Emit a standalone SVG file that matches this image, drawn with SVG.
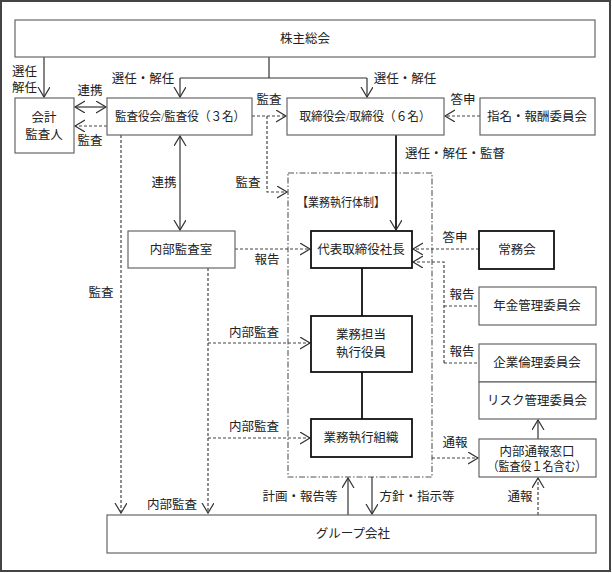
<svg xmlns="http://www.w3.org/2000/svg" width="612" height="573" viewBox="0 0 612 573">
<style>
text{font-family:"Liberation Serif","Noto Sans CJK JP",serif;font-size:12.5px;fill:#222;text-anchor:middle;dominant-baseline:central}
.box{fill:#fff;stroke:#666;stroke-width:1.2}
.bold{fill:#fff;stroke:#111;stroke-width:1.8}
.c{fill:none;stroke:#333;stroke-width:1.2}
.d{fill:none;stroke:#444;stroke-width:1.2;stroke-dasharray:3 2}
.th{fill:none;stroke:#111;stroke-width:1.8}
.dd{fill:none;stroke:#555;stroke-width:1.1;stroke-dasharray:6 2 1.5 2}
.l{text-anchor:start}
</style>
<defs>
<marker id="a" markerUnits="userSpaceOnUse" markerWidth="14" markerHeight="14" refX="10" refY="6" orient="auto-start-reverse">
<path d="M0,0 L10,6 L0,12" fill="none" stroke="#333" stroke-width="1.2" stroke-dasharray="none"/>
</marker>
</defs>
<rect x="1" y="1" width="609" height="570" fill="#fff" stroke="#444" stroke-width="2"/>
<rect id="exec-frame" class="dd" x="288" y="173" width="144" height="304"/>
<g id="connectors">
<path class="c" d="M44,57 V97" marker-end="url(#a)"/>
<path class="c" d="M269,57 V78 M180,78 H367"/>
<path class="c" d="M180,78 V97" marker-end="url(#a)"/>
<path class="c" d="M367,78 V97" marker-end="url(#a)"/>
<path class="c" d="M75,107 H106" marker-start="url(#a)" marker-end="url(#a)"/>
<path class="d" d="M107,126 H75" marker-end="url(#a)"/>
<path class="d" d="M252,116 H286" marker-end="url(#a)"/>
<path class="d" d="M267,116 V192 H287" marker-end="url(#a)"/>
<path class="d" d="M480,116 H445" marker-end="url(#a)"/>
<path class="th" d="M396,135 V230" marker-end="url(#a)"/>
<path class="c" d="M180,136 V230" marker-start="url(#a)" marker-end="url(#a)"/>
<path class="d" d="M235,249 H310" marker-end="url(#a)"/>
<path class="th" d="M362,268 V316 M362,372 V419"/>
<path class="d" d="M208,268 V513" marker-end="url(#a)"/>
<path class="d" d="M208,343 H310" marker-end="url(#a)"/>
<path class="d" d="M208,438 H310" marker-end="url(#a)"/>
<path class="d" d="M121,135 V513" marker-end="url(#a)"/>
<path class="c" d="M348,515 V478" marker-end="url(#a)"/>
<path class="c" d="M372,477 V514" marker-end="url(#a)"/>
<path class="d" d="M479,249 H413" marker-end="url(#a)"/>
<path class="d" d="M444,363 V262 H413" marker-end="url(#a)"/>
<path class="d" d="M444,306 H479 M444,363 H479"/>
<path class="d" d="M432,458 H478" marker-end="url(#a)"/>
<path class="c" d="M538,439 V420" marker-end="url(#a)"/>
<path class="d" d="M538,515 V478" marker-end="url(#a)"/>
<text class="l" x="12" y="72">選任</text>
<text class="l" x="12" y="88">解任</text>
<text x="90" y="91">連携</text>
<text x="90" y="141">監査</text>
<text x="143" y="79">選任・解任</text>
<text x="405" y="79">選任・解任</text>
<text x="269" y="100">監査</text>
<text x="463" y="100">答申</text>
<text x="455" y="154">選任・解任・監督</text>
<text x="164" y="183">連携</text>
<text x="248" y="183">監査</text>
<text x="101" y="293">監査</text>
<text x="267" y="260">報告</text>
<text x="254" y="333">内部監査</text>
<text x="254" y="427">内部監査</text>
<text x="172" y="505">内部監査</text>
<text x="300" y="497">計画・報告等</text>
<text x="417" y="497">方針・指示等</text>
<text x="455" y="238">答申</text>
<text x="462" y="295">報告</text>
<text x="462" y="352">報告</text>
<text x="455" y="443">通報</text>
<text x="520" y="497">通報</text>
</g>
<text x="341" y="203" textLength="88" lengthAdjust="spacingAndGlyphs">【業務執行体制】</text>
<g id="shareholders"><rect class="box" x="15" y="20" width="580" height="37"/><text x="305" y="39">株主総会</text></g>
<g id="auditor"><rect class="box" x="15" y="98" width="59" height="55"/><text x="44" y="118">会計</text><text x="44" y="135">監査人</text></g>
<g id="audit-board"><rect class="box" x="107" y="98" width="145" height="37"/><text x="180" y="117" textLength="130" lengthAdjust="spacingAndGlyphs">監査役会/監査役（３名）</text></g>
<g id="board"><rect class="box" x="287" y="98" width="157" height="37"/><text x="365" y="117" textLength="131" lengthAdjust="spacingAndGlyphs">取締役会/取締役（６名）</text></g>
<g id="nomination"><rect class="box" x="480" y="98" width="115" height="37"/><text x="537" y="117">指名・報酬委員会</text></g>
<g id="internal-audit"><rect class="box" x="128" y="231" width="107" height="37"/><text x="181" y="250">内部監査室</text></g>
<g id="president"><rect class="bold" x="311" y="231" width="101" height="37"/><text x="361" y="250">代表取締役社長</text></g>
<g id="officers"><rect class="bold" x="311" y="316" width="101" height="56"/><text x="361" y="335">業務担当</text><text x="361" y="353">執行役員</text></g>
<g id="org"><rect class="bold" x="311" y="419" width="101" height="38"/><text x="361" y="438">業務執行組織</text></g>
<g id="executive-committee"><rect class="bold" x="479" y="231" width="75" height="38"/><text x="517" y="250">常務会</text></g>
<g id="pension"><rect class="box" x="479" y="287" width="117" height="38"/><text x="537" y="306">年金管理委員会</text></g>
<g id="ethics"><rect class="box" x="479" y="344" width="117" height="38"/><text x="537" y="363">企業倫理委員会</text></g>
<g id="risk"><rect class="box" x="479" y="382" width="117" height="37"/><text x="537" y="401">リスク管理委員会</text></g>
<g id="whistle"><rect class="box" x="479" y="439" width="117" height="38"/><text x="537" y="452">内部通報窓口</text><text x="537" y="467" textLength="99" lengthAdjust="spacingAndGlyphs">（監査役１名含む）</text></g>
<g id="group"><rect class="box" x="107" y="515" width="489" height="38"/><text x="353" y="534">グループ会社</text></g>
</svg>
